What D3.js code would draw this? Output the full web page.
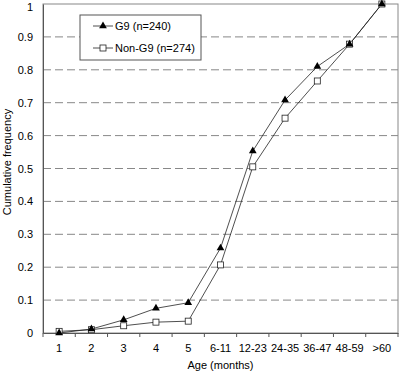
<!DOCTYPE html>
<html lang="en">
<head>
<meta charset="UTF-8">
<title>Cumulative frequency by age</title>
<script src="https://d3js.org/d3.v7.min.js"></script>
<style>
    body { margin: 0; background: #fff; }
    svg { display: block; font-family: "Liberation Sans", Arial, sans-serif; }
    .tick text { font-size: 11px; fill: #000; }
</style>
</head>
<body>
<div id="chart"></div>
<script>
// data
const ages = ["1", "2", "3", "4", "5", "6-11", "12-23", "24-35", "36-47", "48-59", ">60"];
const g9 = [0.0, 0.012, 0.04, 0.075, 0.092, 0.258, 0.553, 0.708, 0.81, 0.878, 1.0];
const nonG9 = [0.005, 0.01, 0.022, 0.033, 0.036, 0.207, 0.505, 0.653, 0.766, 0.878, 1.0];
const yTicks = [0, 0.1, 0.2, 0.3, 0.4, 0.5, 0.6, 0.7, 0.8, 0.9, 1];

const W = 400, H = 375;
const margin = {top: 4, right: 2, bottom: 42, left: 43};
const width = W - margin.left - margin.right;
const height = H - margin.top - margin.bottom;

const svg = d3.select("#chart").append("svg")
    .attr("width", W).attr("height", H);
const g = svg.append("g").attr("transform", `translate(${margin.left},${margin.top})`);

const x = d3.scaleBand().domain(ages).range([0, width]);
const y = d3.scaleLinear().domain([0, 1]).range([height, 0]);

// grid
g.selectAll(".grid").data(yTicks.filter(d => d > 0 && d < 1)).enter()
    .append("line")
    .attr("x1", 0).attr("x2", width)
    .attr("y1", d => y(d)).attr("y2", d => y(d))
    .attr("stroke", "#888").attr("stroke-width", 1)
    .attr("stroke-dasharray", "8,4");

// frame
g.append("rect").attr("x", 0).attr("y", 0).attr("width", width).attr("height", height)
    .attr("fill", "none").attr("stroke", "#888");

// y axis
const yAxis = g.append("g").call(d3.axisLeft(y).tickValues(yTicks).tickSize(0).tickPadding(10).tickFormat(d3.format("")));
yAxis.select(".domain").attr("stroke", "#555");
// top label sits at the edge, nudge it down a little
yAxis.selectAll(".tick text").filter(d => d === 1).attr("dy", "0.55em");

// x axis with ticks at band edges
const xAxis = g.append("g").attr("transform", `translate(0,${height})`)
    .call(d3.axisBottom(x).tickSize(0).tickPadding(11));
xAxis.select(".domain").attr("stroke", "#555");
g.append("g").selectAll("line").data(d3.range(ages.length + 1)).enter()
    .append("line")
    .attr("x1", i => i * x.step()).attr("x2", i => i * x.step())
    .attr("y1", height).attr("y2", height + 4)
    .attr("stroke", "#555");

// labels
svg.append("text")
    .attr("transform", "translate(11,162) rotate(-90)")
    .attr("text-anchor", "middle").attr("font-size", 11)
    .text("Cumulative frequency");
svg.append("text")
    .attr("x", margin.left + width / 2).attr("y", 369)
    .attr("text-anchor", "middle").attr("font-size", 11)
    .text("Age (months)");

// lines (straight segments)
const cx = (d, i) => x(ages[i]) + x.bandwidth() / 2;
const line = d3.line().x(cx).y(d => y(d));

[nonG9, g9].forEach(s => {
    g.append("path").datum(s)
        .attr("fill", "none").attr("stroke", "#222").attr("stroke-width", 0.8)
        .attr("d", line);
});

const tri = d3.symbol().type(d3.symbolTriangle).size(26);

g.selectAll(".sq").data(nonG9).enter().append("rect")
    .attr("x", (d, i) => cx(d, i) - 3).attr("y", d => y(d) - 3)
    .attr("width", 6).attr("height", 6)
    .attr("fill", "#fff").attr("stroke", "#222").attr("stroke-width", 0.8);

g.selectAll(".tri").data(g9).enter().append("path")
    .attr("d", tri)
    .attr("transform", (d, i) => `translate(${cx(d, i)},${y(d)})`)
    .attr("fill", "#000");

// legend
const lg = svg.append("g").attr("transform", "translate(80,15)");
lg.append("rect").attr("width", 121).attr("height", 45)
    .attr("fill", "#fff").attr("stroke", "#555");
const items = [{name: "G9 (n=240)", type: "tri"}, {name: "Non-G9 (n=274)", type: "sq"}];
items.forEach((it, i) => {
    const yy = 11 + i * 22;
    lg.append("line").attr("x1", 13).attr("x2", 33).attr("y1", yy).attr("y2", yy)
        .attr("stroke", "#222").attr("stroke-width", 0.8);
    if (it.type === "tri") {
        lg.append("path").attr("d", tri).attr("transform", `translate(23,${yy})`).attr("fill", "#000");
    } else {
        lg.append("rect").attr("x", 20).attr("y", yy - 3).attr("width", 6).attr("height", 6)
            .attr("fill", "#fff").attr("stroke", "#222").attr("stroke-width", 0.8);
    }
    lg.append("text").attr("x", 35).attr("y", yy + 4).attr("font-size", 11).text(it.name);
});
</script>
</body>
</html>
